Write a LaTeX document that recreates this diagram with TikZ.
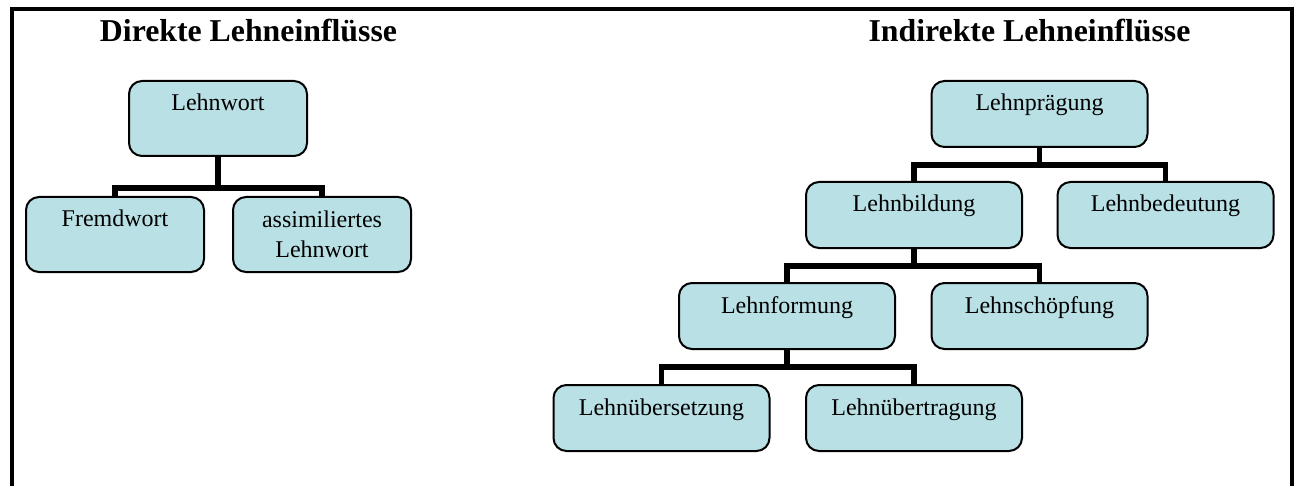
\documentclass[tikz,border=0pt]{standalone}
\usepackage{fontspec}
\setmainfont{Liberation Serif}
\usepackage{tikz}
\usetikzlibrary{positioning,calc,backgrounds}
\definecolor{boxfill}{RGB}{185,224,228}
\tikzset{
  lbox/.style={draw=black,fill=boxfill,rounded corners=6.5pt,line width=1pt,
    anchor=north,align=center,font=\fontsize{12}{15}\selectfont,
    inner xsep=3pt,inner ysep=5pt,text height=10pt},
  leftbox/.style={lbox,minimum width=89pt,text depth=17.5pt},
  twoline/.style={text height=25pt,text depth=2.5pt},
  rightbox/.style={lbox,minimum width=108pt,text depth=13pt},
  title/.style={anchor=base,font=\fontsize{15.9}{19}\selectfont\bfseries},
  tree/.style={line width=2.85pt,black},
  frame/.style={line width=2pt,black},
}
\begin{document}
\begin{tikzpicture}[x=0.5pt,y=-0.5pt]
  \useasboundingbox (0,0) rectangle (1299,486);
  \draw[frame] (12,486) |- (1292,9) -- (1292,486);
  % direkte Lehneinfluesse
  \node[title] (dtitle) at (248.5,42) {Direkte Lehneinflüsse};
  \node[leftbox] (lehnwort) at (218,80) {Lehnwort};
  \node[leftbox] (fremdwort) at (115,196) {Fremdwort};
  \node[leftbox,twoline] (assimlw) at (322,196) {assimiliertes\\Lehnwort};
  % indirekte Lehneinfluesse
  \node[title] (ititle) at (1029.5,42) {Indirekte Lehneinflüsse};
  \node[rightbox] (praegung) at (1039.5,80) {Lehnprägung};
  \node[rightbox] (bildung) at (914,181) {Lehnbildung};
  \node[rightbox] (bedeutung) at (1165.5,181) {Lehnbedeutung};
  \node[rightbox] (formung) at (787,282) {Lehnformung};
  \node[rightbox] (schoepfung) at (1039.5,282) {Lehnschöpfung};
  \node[rightbox] (uebersetzung) at (661.5,384) {Lehnübersetzung};
  \node[rightbox] (uebertragung) at (914,384) {Lehnübertragung};
  \begin{scope}[on background layer]
    \foreach \p/\c in {lehnwort/fremdwort,lehnwort/assimlw} {
      \draw[tree] (\p.south) -- ++(0,31) -| (\c.north);
    }
    \foreach \p/\c in {praegung/bildung,praegung/bedeutung,bildung/formung,
      bildung/schoepfung,formung/uebersetzung,formung/uebertragung} {
      \draw[tree] (\p.south) -- ++(0,17) -| (\c.north);
    }
  \end{scope}
\end{tikzpicture}
\end{document}
